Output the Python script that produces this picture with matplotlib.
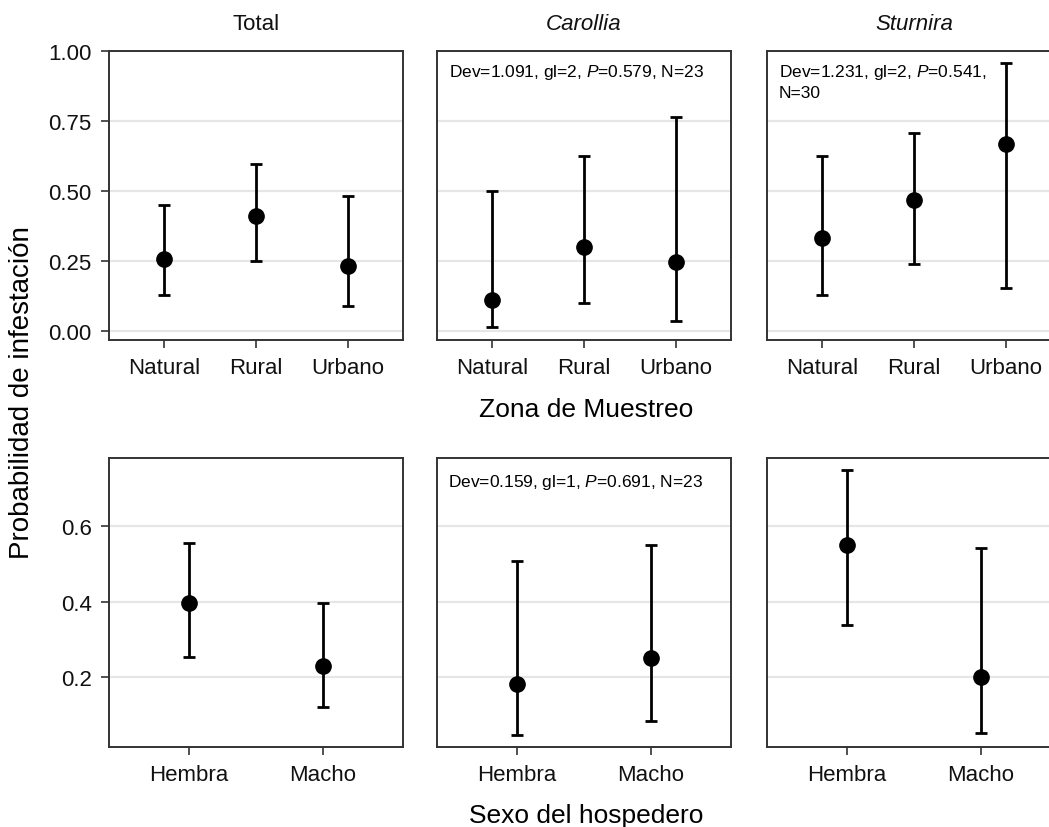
import matplotlib
matplotlib.use("Agg")
import matplotlib.pyplot as plt
from matplotlib.ticker import FixedLocator, FormatStrFormatter

plt.rcParams['font.family'] = ['Liberation Sans', 'DejaVu Sans']
plt.rcParams['mathtext.fontset'] = 'custom'
plt.rcParams['mathtext.rm'] = 'Liberation Sans'
plt.rcParams['mathtext.it'] = 'Liberation Sans:italic'

# ---------------- data ----------------
zona = ["Natural", "Rural", "Urbano"]
sexo = ["Hembra", "Macho"]
panel_titles = ["Total", "Carollia", "Sturnira"]

total_zona_est = [0.258, 0.413, 0.234]
total_zona_lo = [0.130, 0.251, 0.090]
total_zona_hi = [0.452, 0.596, 0.484]

carollia_zona_est = [0.112, 0.300, 0.249]
carollia_zona_lo = [0.015, 0.100, 0.035]
carollia_zona_hi = [0.500, 0.624, 0.763]

sturnira_zona_est = [0.333, 0.468, 0.668]
sturnira_zona_lo = [0.130, 0.239, 0.155]
sturnira_zona_hi = [0.624, 0.707, 0.958]

total_sexo_est = [0.396, 0.229]
total_sexo_lo = [0.254, 0.120]
total_sexo_hi = [0.556, 0.396]

carollia_sexo_est = [0.181, 0.250]
carollia_sexo_lo = [0.047, 0.082]
carollia_sexo_hi = [0.508, 0.551]

sturnira_sexo_est = [0.550, 0.201]
sturnira_sexo_lo = [0.337, 0.052]
sturnira_sexo_hi = [0.748, 0.542]

top_yticks = [0.00, 0.25, 0.50, 0.75, 1.00]
bot_yticks = [0.2, 0.4, 0.6]

ann_carollia_zona = r"Dev=1.091, gl=2, $\mathit{P}$=0.579, N=23"
ann_sturnira_zona_1 = r"Dev=1.231, gl=2, $\mathit{P}$=0.541,"
ann_sturnira_zona_2 = "N=30"
ann_carollia_sexo = r"Dev=0.159, gl=1, $\mathit{P}$=0.691, N=23"

# ---------------- layout ----------------
W, H = 1049, 828
fig = plt.figure(figsize=(W / 100, H / 100), dpi=100)


def fx(x):
    return x / W


def fy(y):
    return 1 - y / H


panel_left = [109, 437, 767]
panel_w = [294, 294, 330]   # last panel runs off the right edge (cropped)
top_row = (52, 341)
bot_row = (459, 748)

EDGE = '#333333'
GRID = '#e6e6e6'


def make_ax(i, row):
    t, b = row
    ax = fig.add_axes([fx(panel_left[i]), fy(b), panel_w[i] / W, (b - t) / H])
    for s in ax.spines.values():
        s.set_color(EDGE)
        s.set_linewidth(1.4)
    ax.set_axisbelow(True)
    ax.grid(axis='y', color=GRID, linewidth=1.6)
    ax.grid(axis='x', visible=False)
    ax.tick_params(axis='both', direction='out', length=5.5, width=1.2,
                   color=EDGE, pad=7, labelsize=16, labelcolor='#111111')
    return ax


def draw(ax, i, cats, est, lo, hi):
    x = list(range(len(cats)))
    yerr = [[e - l for e, l in zip(est, lo)], [h - e for e, h in zip(est, hi)]]
    ax.errorbar(x, est, yerr=yerr, fmt='o', color='black', ecolor='black',
                markersize=11, elinewidth=2.0, capsize=4, capthick=2.0,
                zorder=3)
    ax.set_xticks(x)
    ax.set_xticklabels(cats)
    n = len(cats)
    # a full panel (294 px) spans (-0.6, n-0.4)
    unit = 294.0 / (n + 0.2)
    ax.set_xlim(-0.6, -0.6 + panel_w[i] / unit)


top_data = [
    (total_zona_est, total_zona_lo, total_zona_hi),
    (carollia_zona_est, carollia_zona_lo, carollia_zona_hi),
    (sturnira_zona_est, sturnira_zona_lo, sturnira_zona_hi),
]
bot_data = [
    (total_sexo_est, total_sexo_lo, total_sexo_hi),
    (carollia_sexo_est, carollia_sexo_lo, carollia_sexo_hi),
    (sturnira_sexo_est, sturnira_sexo_lo, sturnira_sexo_hi),
]

for i in range(3):
    ax = make_ax(i, top_row)
    draw(ax, i, zona, *top_data[i])
    ax.set_ylim(-0.031, 1.0)
    ax.yaxis.set_major_locator(FixedLocator(top_yticks))
    ax.yaxis.set_major_formatter(FormatStrFormatter('%.2f'))
    if i > 0:
        ax.tick_params(axis='y', length=0, labelleft=False)

    ax2 = make_ax(i, bot_row)
    draw(ax2, i, sexo, *bot_data[i])
    ax2.set_ylim(0.014, 0.781)
    ax2.yaxis.set_major_locator(FixedLocator(bot_yticks))
    ax2.yaxis.set_major_formatter(FormatStrFormatter('%.1f'))
    if i > 0:
        ax2.tick_params(axis='y', length=0, labelleft=False)

# panel titles
for i, t in enumerate(panel_titles):
    cx = panel_left[i] + 294 / 2
    fig.text(fx(cx), fy(30), t, ha='center', va='baseline', fontsize=16,
             style='normal' if i == 0 else 'italic', color='#111111')

# annotations
fig.text(fx(449), fy(77), ann_carollia_zona, ha='left', va='baseline', fontsize=12.5)
fig.text(fx(779), fy(77), ann_sturnira_zona_1, ha='left', va='baseline', fontsize=12.5)
fig.text(fx(779), fy(98), ann_sturnira_zona_2, ha='left', va='baseline', fontsize=12.5)
fig.text(fx(448), fy(487), ann_carollia_sexo, ha='left', va='baseline', fontsize=12.5)

# axis titles
fig.text(fx(586), fy(417), "Zona de Muestreo", ha='center', va='baseline', fontsize=19)
fig.text(fx(586), fy(823), "Sexo del hospedero", ha='center', va='baseline', fontsize=19)
fig.text(fx(22), fy(393), "Probabilidad de infestación", ha='center', va='center',
         rotation=90, fontsize=20)

fig.savefig("out.png", dpi=100, facecolor='white')
